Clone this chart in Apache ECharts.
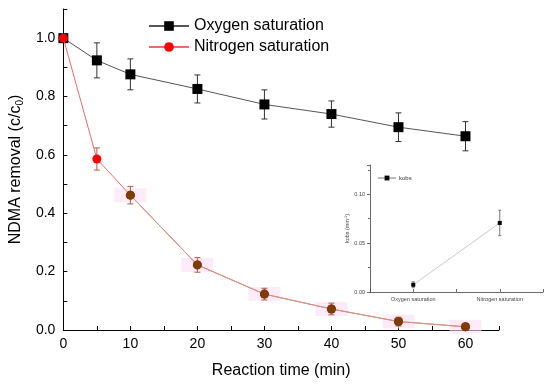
<!DOCTYPE html>
<html>
<head>
<meta charset="utf-8">
<script src="https://cdn.jsdelivr.net/npm/echarts@6/dist/echarts.min.js"></script>
<style>html,body{margin:0;padding:0;background:#fff}#c{width:550px;height:384px}</style>
</head>
<body>
<div id="c"></div>
<script>
const times = [0, 5, 10, 20, 30, 40, 50, 60];
const oxygen = [1.0, 0.924, 0.876, 0.826, 0.773, 0.74, 0.695, 0.664];
const oxygenErr = [0, 0.06, 0.053, 0.048, 0.05, 0.045, 0.049, 0.05];
const nitrogen = [1.0, 0.586, 0.462, 0.223, 0.123, 0.072, 0.029, 0.011];
const nitrogenErr = [0, 0.038, 0.03, 0.025, 0.02, 0.02, 0.015, 0.01];
const insetCats = ['Oxygen saturation', 'Nitrogen saturation'];
const kobs = [0.0074, 0.0707];
const kobsErr = [0.003, 0.013];

const FONT = 'Liberation Sans, Arial, sans-serif';

function errSeries(xIdx, yIdx, xs, ys, es, color, cap, z) {
  return {
    type: 'custom', xAxisIndex: xIdx, yAxisIndex: yIdx, z: z || 3, silent: true,
    data: xs.map((x, i) => [x, ys[i], es[i]]),
    renderItem: function (params, api) {
      const x = api.value(0), y = api.value(1), e = api.value(2);
      if (!e) return null;
      const top = api.coord([x, y + e]);
      const bot = api.coord([x, y - e]);
      const st = { stroke: color, lineWidth: 1 };
      return { type: 'group', children: [
        { type: 'line', shape: { x1: top[0], y1: top[1], x2: bot[0], y2: bot[1] }, style: st },
        { type: 'line', shape: { x1: top[0] - cap, y1: top[1], x2: top[0] + cap, y2: top[1] }, style: st },
        { type: 'line', shape: { x1: bot[0] - cap, y1: bot[1], x2: bot[0] + cap, y2: bot[1] }, style: st }
      ]};
    }
  };
}

const chart = echarts.init(document.getElementById('c'), null, { renderer: 'canvas' });

const nitroLate = times.map((t, i) => i >= 2 ? [t, nitrogen[i]] : null).filter(Boolean);

chart.setOption({
  animation: false,
  backgroundColor: '#fff',
  textStyle: { fontFamily: FONT },
  grid: [
    { left: 61, right: 51, top: 9, bottom: 54 },
    { left: 370, right: 7, top: 165, bottom: 92 }
  ],
  legend: [
    {
      data: ['Oxygen saturation', 'Nitrogen saturation'],
      orient: 'vertical', left: 143, top: 13, itemWidth: 40, itemHeight: 12, itemGap: 5,
      textStyle: { fontSize: 16, color: '#000', fontFamily: FONT }
    },
    {
      data: ['kobs'],
      left: 372, top: 170, itemWidth: 18, itemHeight: 6, itemGap: 2,
      textStyle: { fontSize: 6, color: '#333', fontFamily: FONT, padding: [0, 0, 0, -2] }
    }
  ],
  xAxis: [
    {
      type: 'value', gridIndex: 0, min: 0, max: 65, interval: 10,
      name: 'Reaction time (min)', nameLocation: 'middle', nameGap: 33,
      nameTextStyle: { fontSize: 16, color: '#000', fontFamily: FONT },
      axisLine: { lineStyle: { color: '#000', width: 1 } },
      axisTick: { inside: true, length: 4, lineStyle: { color: '#000' } },
      minorTick: { show: true, splitNumber: 2, length: 4, lineStyle: { color: '#000' } },
      axisLabel: { fontSize: 14, color: '#000', margin: 7, fontFamily: FONT,
        formatter: v => (v % 10 === 0 ? String(v) : '') },
      splitLine: { show: false }
    },
    {
      type: 'value', gridIndex: 1, min: 0.5, max: 2.5, interval: 0.5,
      axisLine: { lineStyle: { color: '#444', width: 0.8 } },
      axisTick: { inside: true, length: 3, lineStyle: { color: '#444', width: 0.8 } },
      axisLabel: { fontSize: 5.5, color: '#444', margin: 4, fontFamily: FONT,
        formatter: v => (Math.abs(v - Math.round(v)) < 1e-6 && insetCats[Math.round(v) - 1]) ? insetCats[Math.round(v) - 1] : '' },
      splitLine: { show: false }
    }
  ],
  yAxis: [
    {
      type: 'value', gridIndex: 0, min: 0, max: 1.1, interval: 0.2,
      name: 'NDMA removal (c/c{sub|0})', nameLocation: 'middle', nameGap: 35, nameRotate: 90,
      nameTextStyle: { fontSize: 16, color: '#000', fontFamily: FONT,
        rich: { sub: { fontSize: 10, verticalAlign: 'bottom', padding: [8, 0, 0, 0], color: '#000', fontFamily: FONT } } },
      axisLine: { show: true, lineStyle: { color: '#000', width: 1 } },
      axisTick: { inside: true, length: 4, lineStyle: { color: '#000' } },
      minorTick: { show: true, splitNumber: 2, length: 4, lineStyle: { color: '#000' } },
      axisLabel: { fontSize: 14, color: '#000', margin: 8, fontFamily: FONT,
        formatter: v => (Math.abs(v * 5 - Math.round(v * 5)) < 1e-6 ? v.toFixed(1) : '') },
      splitLine: { show: false }
    },
    {
      type: 'value', gridIndex: 1, min: 0, max: 0.13, interval: 0.05,
      name: 'kobs (min{sup|-1})', nameLocation: 'middle', nameGap: 19, nameRotate: 90,
      nameTextStyle: { fontSize: 5.5, color: '#444', fontFamily: FONT,
        rich: { sup: { fontSize: 4, verticalAlign: 'top', padding: [0, 0, 3, 0], color: '#444' } } },
      axisLine: { show: true, lineStyle: { color: '#444', width: 0.8 } },
      axisTick: { inside: false, length: 3, lineStyle: { color: '#444', width: 0.8 } },
      minorTick: { show: true, splitNumber: 2, length: 2, lineStyle: { color: '#444', width: 0.8 } },
      axisLabel: { fontSize: 5.5, color: '#444', margin: 5, fontFamily: FONT,
        formatter: v => (Math.abs(v * 20 - Math.round(v * 20)) < 1e-6 ? v.toFixed(2) : '') },
      splitLine: { show: false }
    }
  ],
  series: [
    {
      type: 'custom', xAxisIndex: 0, yAxisIndex: 0, z: 1, silent: true,
      data: nitroLate,
      renderItem: function (params, api) {
        const p = api.coord([api.value(0), api.value(1)]);
        return { type: 'rect', shape: { x: p[0] - 16, y: p[1] - 7, width: 32, height: 14 },
          style: { fill: 'rgba(252,222,246,0.6)' } };
      }
    },
    errSeries(0, 0, times, oxygen, oxygenErr, '#333', 3, 3),
    {
      name: 'Oxygen saturation', type: 'line', xAxisIndex: 0, yAxisIndex: 0, z: 4,
      data: times.map((t, i) => [t, oxygen[i]]),
      symbol: 'rect', symbolSize: 10,
      lineStyle: { color: '#555', width: 1 },
      itemStyle: { color: '#000' }
    },
    errSeries(0, 0, times, nitrogen, nitrogenErr, '#b06040', 3, 5),
    {
      name: 'Nitrogen saturation', type: 'line', xAxisIndex: 0, yAxisIndex: 0, z: 6,
      data: times.map((t, i) => [t, nitrogen[i]]),
      symbol: 'circle', symbolSize: 9,
      lineStyle: { color: '#f06a6a', width: 1 },
      itemStyle: { color: '#ff0000' }
    },
    {
      type: 'line', xAxisIndex: 0, yAxisIndex: 0, z: 7, silent: true,
      data: nitroLate,
      symbol: 'circle', symbolSize: 9,
      lineStyle: { color: '#c99a86', width: 1 },
      itemStyle: { color: '#7a3d05' }
    },
    errSeries(1, 1, [1, 2], kobs, kobsErr, '#777', 1.5, 3),
    {
      name: 'kobs', type: 'line', xAxisIndex: 1, yAxisIndex: 1, z: 4,
      data: [1, 2].map((x, i) => [x, kobs[i]]),
      symbol: 'rect', symbolSize: 4,
      lineStyle: { color: '#bbb', width: 0.8 },
      itemStyle: { color: '#000' }
    }
  ]
});
</script>
</body>
</html>
